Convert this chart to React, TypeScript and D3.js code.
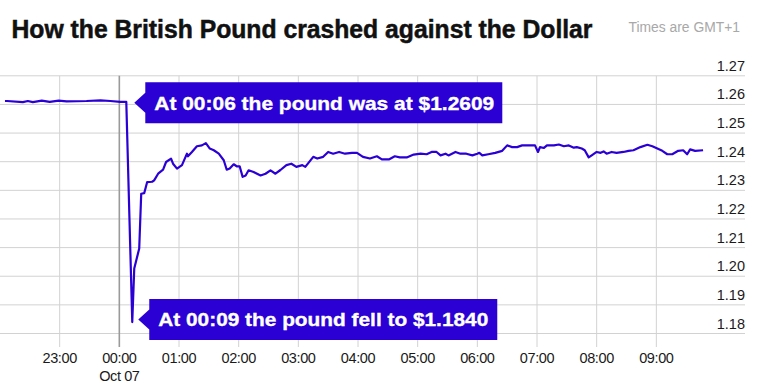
import React from "react";
import * as d3 from "d3";

// minutes relative to 00:00 Oct 07 (GMT+1)
const minutes = [
  -115, -113, -97, -92, -87, -78, -70, -61, -53, -33, -19, -9, 1, 7,
  13, 15, 20, 22, 25, 28, 33, 35, 39, 44, 47, 52, 54, 58, 63, 68, 69, 73, 78, 83, 87,
  91, 95, 100, 105, 108, 111, 115, 118, 121, 124, 127, 130, 135, 142, 147, 152, 157, 162,
  168, 173, 178, 184, 187, 195, 199, 205, 210, 215, 221, 227, 234, 239, 245, 252, 259,
  264, 271, 277, 282, 289, 296, 303, 309, 314, 319, 323, 328, 331, 338, 343, 349, 355,
  360, 362, 365, 371, 378, 385, 390, 395, 400, 405, 411, 418, 421, 423, 427, 430, 437,
  442, 447, 452, 457, 460, 465, 468, 472, 475, 480, 484, 487, 490, 495, 500, 507, 512,
  517, 524, 531, 536, 541, 546, 551, 556, 562, 567, 571, 574, 579, 587,
];
const rates = [
  1.2612, 1.2612, 1.2608, 1.2612, 1.2608, 1.2613, 1.2609, 1.2613, 1.2611, 1.2612, 1.2614, 1.2612, 1.2609, 1.2609,
  1.184, 1.2027, 1.2097, 1.2288, 1.229, 1.2329, 1.233, 1.2335, 1.2358, 1.2372, 1.2399, 1.2411, 1.2393, 1.2376, 1.2388, 1.2428, 1.2419, 1.2434, 1.2454, 1.2457, 1.2465,
  1.2446, 1.244, 1.2428, 1.2405, 1.2372, 1.2376, 1.2391, 1.2384, 1.2384, 1.2347, 1.2352, 1.237, 1.2364, 1.2352, 1.2358, 1.237, 1.2358, 1.2371,
  1.2388, 1.2393, 1.2382, 1.2388, 1.2382, 1.2417, 1.2411, 1.2417, 1.2434, 1.2428, 1.2434, 1.2428, 1.2431, 1.2431, 1.2417, 1.2411, 1.2419,
  1.2408, 1.2408, 1.2419, 1.2415, 1.2415, 1.2425, 1.2428, 1.2426, 1.2434, 1.2434, 1.2422, 1.2428, 1.2422, 1.2434, 1.2428, 1.2428, 1.2422,
  1.2428, 1.2431, 1.2422, 1.2426, 1.2431, 1.2438, 1.2457, 1.2451, 1.2451, 1.2457, 1.2457, 1.2457, 1.2434, 1.2451, 1.2448, 1.2457, 1.2457,
  1.246, 1.2454, 1.2457, 1.2449, 1.2451, 1.2446, 1.244, 1.2415, 1.2422, 1.2434, 1.2431, 1.2436, 1.2428, 1.2434, 1.2431, 1.2434, 1.2438,
  1.244, 1.2451, 1.2459, 1.2454, 1.2446, 1.2438, 1.2426, 1.2426, 1.2438, 1.244, 1.2426, 1.2443, 1.2438, 1.244,
];

const hourTicks = [-60, 0, 60, 120, 180, 240, 300, 360, 420, 480, 540];
const hourLabels = ["23:00", "00:00", "01:00", "02:00", "03:00", "04:00", "05:00", "06:00", "07:00", "08:00", "09:00"];
const rateTicks = [1.18, 1.19, 1.2, 1.21, 1.22, 1.23, 1.24, 1.25, 1.26, 1.27];

const title = "How the British Pound crashed against the Dollar";
const note = "Times are GMT+1";
const topNote = "At 00:06 the pound was at $1.2609";
const bottomNote = "At 00:09 the pound fell to $1.1840";

const BLUE = "#2a00d4";
const FONT = "'Liberation Sans', Arial, sans-serif";

export default function App() {
  const x = d3.scaleLinear().domain([-120, 600]).range([0, 716]);
  const y = d3.scaleLinear().domain([1.18, 1.27]).range([333.5, 75.8]);

  const pts = minutes.map((m, i) => [m, rates[i]] as [number, number]);
  const line = d3.line<[number, number]>()
    .x(d => x(d[0]))
    .y(d => y(d[1]));

  const topIdx = 13;
  const lowIdx = rates.indexOf(d3.min(rates) as number);

  // box with a little arrow pointing left at (tx, ty)
  const callout = (tx: number, ty: number, w: number, text: string, tl: number, key: string) => {
    const bx = tx + 11;
    const h = 41;
    const top = ty - h / 2;
    return (
      <g key={key}>
        <path
          d={`M${tx},${ty} L${bx},${ty - 10} L${bx},${top} L${bx + w},${top} L${bx + w},${top + h} L${bx},${top + h} L${bx},${ty + 10} Z`}
          fill={BLUE}
        />
        <text
          x={bx + 9}
          y={ty + 6.8}
          fill="#fff"
          stroke="#fff"
          strokeWidth={0.35}
          fontFamily={FONT}
          fontWeight={700}
          fontSize={19}
          textLength={tl}
          lengthAdjust="spacingAndGlyphs"
        >
          {text}
        </text>
      </g>
    );
  };

  return (
    <svg width={761} height={387} style={{ position: "absolute", left: 0, top: 0, background: "#fff" }}>
      <text x={11.5} y={38.3} fontFamily={FONT} fontWeight={700} fontSize={25} fill="#111"
        stroke="#111" strokeWidth={0.5}
        textLength={581} lengthAdjust="spacingAndGlyphs">{title}</text>
      <text x={628.5} y={31.5} fontFamily={FONT} fontSize={15.5} fill="#a8a8a8"
        textLength={111.5} lengthAdjust="spacingAndGlyphs">{note}</text>

      {rateTicks.map(r => (
        <g key={r}>
          <line x1={0} x2={745} y1={y(r)} y2={y(r)} stroke="#d2d2d2" strokeWidth={1} />
          <text x={745} y={y(r) - 5} textAnchor="end" fontFamily={FONT} fontSize={14.5} fill="#1a1a1a">
            {d3.format(".2f")(r)}
          </text>
        </g>
      ))}

      {hourTicks.map((m, i) => (
        <g key={m}>
          <line x1={x(m)} x2={x(m)} y1={y(1.27)} y2={347}
            stroke={m === 0 ? "#9a9a9a" : "#d2d2d2"} strokeWidth={m === 0 ? 1.6 : 1} />
          <text x={x(m)} y={363} textAnchor="middle" fontFamily={FONT} fontSize={14.5} fill="#1a1a1a"
            letterSpacing={-0.4}>
            {hourLabels[i]}
          </text>
        </g>
      ))}
      <text x={x(0)} y={381} textAnchor="middle" fontFamily={FONT} fontSize={14.5} fill="#1a1a1a" letterSpacing={-0.4}>
        Oct 07
      </text>

      <path d={line(pts) ?? ""} fill="none" stroke={BLUE} strokeWidth={2.2} strokeLinejoin="round" />

      {callout(x(minutes[topIdx]) + 8, y(rates[topIdx]) + 1, 357, topNote, 340, "top")}
      {callout(x(minutes[lowIdx]) + 6, y(rates[lowIdx]) - 2.5, 348, bottomNote, 330, "low")}
    </svg>
  );
}
